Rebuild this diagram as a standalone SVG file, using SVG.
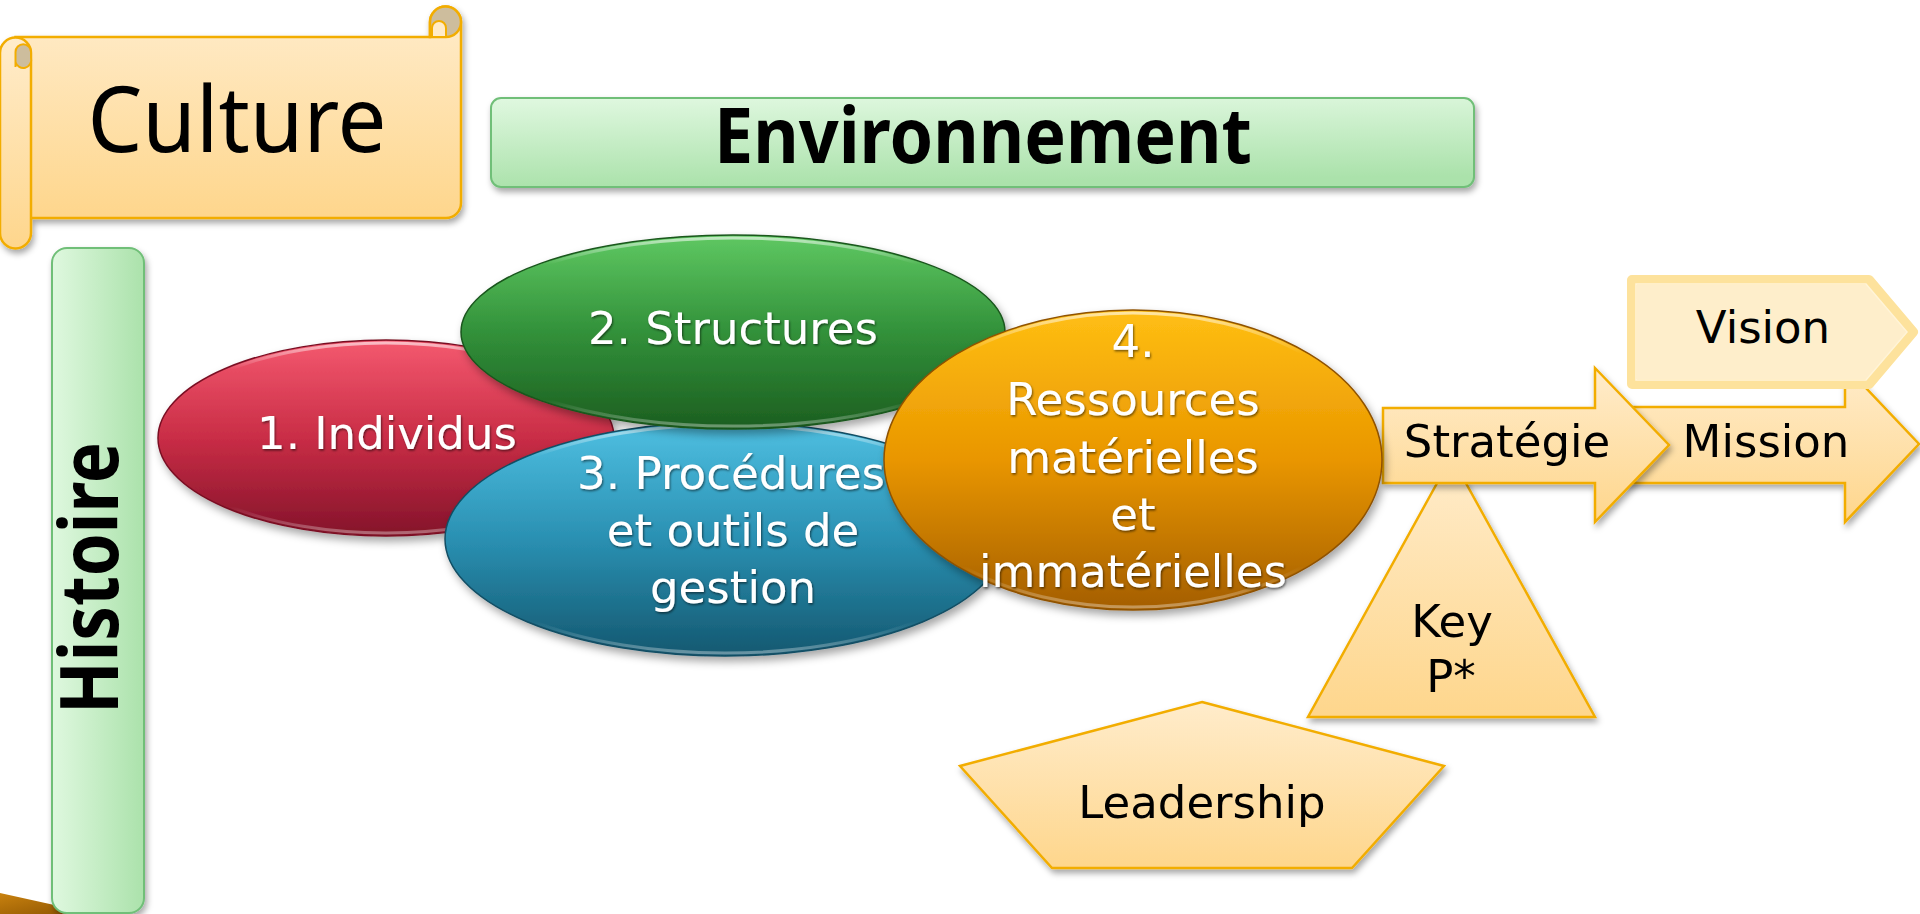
<svg xmlns="http://www.w3.org/2000/svg" width="1920" height="914" viewBox="0 0 1920 914">
<defs>
  <linearGradient id="gPeach" x1="0" y1="0" x2="0" y2="1">
    <stop offset="0" stop-color="#ffeccb"/>
    <stop offset="1" stop-color="#fed68c"/>
  </linearGradient>
  <linearGradient id="gGreenH" x1="0" y1="0" x2="1" y2="0">
    <stop offset="0" stop-color="#dff8df"/>
    <stop offset="1" stop-color="#abe2ab"/>
  </linearGradient>
  <linearGradient id="gGreenD" x1="0" y1="0" x2="0.15" y2="1">
    <stop offset="0" stop-color="#e0f8e0"/>
    <stop offset="1" stop-color="#abe2ab"/>
  </linearGradient>
  <linearGradient id="gRed" x1="0" y1="0" x2="0" y2="1">
    <stop offset="0" stop-color="#f4596f"/>
    <stop offset="0.5" stop-color="#c92d46"/>
    <stop offset="1" stop-color="#84132a"/>
  </linearGradient>
  <linearGradient id="gGreen" x1="0" y1="0" x2="0" y2="1">
    <stop offset="0" stop-color="#5fc862"/>
    <stop offset="0.5" stop-color="#32913a"/>
    <stop offset="1" stop-color="#1c5e20"/>
  </linearGradient>
  <linearGradient id="gBlue" x1="0" y1="0" x2="0" y2="1">
    <stop offset="0" stop-color="#4fc0e2"/>
    <stop offset="0.5" stop-color="#2a90b2"/>
    <stop offset="1" stop-color="#145870"/>
  </linearGradient>
  <linearGradient id="gOrange" x1="0" y1="0" x2="0" y2="1">
    <stop offset="0" stop-color="#ffbf14"/>
    <stop offset="0.5" stop-color="#e99600"/>
    <stop offset="1" stop-color="#a45e00"/>
  </linearGradient>
  <linearGradient id="gGloss" x1="0" y1="0" x2="0" y2="1">
    <stop offset="0" stop-color="#ffffff" stop-opacity="0.6"/>
    <stop offset="0.14" stop-color="#ffffff" stop-opacity="0"/>
    <stop offset="0.86" stop-color="#ffffff" stop-opacity="0"/>
    <stop offset="1" stop-color="#ffffff" stop-opacity="0.35"/>
  </linearGradient>
  <linearGradient id="gWood" x1="0" y1="0" x2="1" y2="1">
    <stop offset="0" stop-color="#c9820f"/>
    <stop offset="1" stop-color="#8a5200"/>
  </linearGradient>
  <filter id="sh" x="-10%" y="-10%" width="130%" height="140%">
    <feDropShadow dx="2" dy="4" stdDeviation="3" flood-color="#000" flood-opacity="0.35"/>
  </filter>
  <filter id="shE" x="-10%" y="-10%" width="130%" height="140%">
    <feDropShadow dx="3" dy="5" stdDeviation="4" flood-color="#000" flood-opacity="0.35"/>
  </filter>
  <filter id="tsh" x="-5%" y="-20%" width="115%" height="150%">
    <feDropShadow dx="1" dy="1.5" stdDeviation="1" flood-color="#000" flood-opacity="0.55"/>
  </filter>
  <style>
    .peach { fill: url(#gPeach); stroke: #f2ad05; stroke-width: 2.5; stroke-linejoin: miter; }
    .green { stroke: #70bf78; stroke-width: 2; }
    .lbl { font-family: "DejaVu Sans", Verdana, sans-serif; font-size: 45px; fill: #000; text-anchor: middle; }
    .wlbl { font-family: "DejaVu Sans", Verdana, sans-serif; font-size: 45px; fill: #fff; text-anchor: middle; filter: url(#tsh); }
    .title { font-family: "Noto Sans", "Open Sans", "Liberation Sans", sans-serif; fill: #000; text-anchor: middle; }
    .gloss { fill: none; stroke: url(#gGloss); stroke-width: 3; }
    .rim { stroke-width: 1.5; }
  </style>
</defs>

<!-- wood corner -->
<polygon points="0,893 95,914 0,914" fill="url(#gWood)"/>

<g id="culture" filter="url(#sh)">
  <path class="peach" d="M15.5,37 H430 V22 A15.5,15.5 0 0 1 461,22 V203 A15,15 0 0 1 446,218 H15.5 Z"/>
  <path d="M430,37 V22 A15.5,15.5 0 0 1 461,22 A15,15 0 0 1 446,37 Z" fill="#cdbd9d" stroke="#f2ad05" stroke-width="2.5"/>
  <path d="M432,37 V28 A7,7 0 0 1 446,28 V37 Z" fill="#ffebc8" stroke="#f2ad05" stroke-width="2"/>
  <path class="peach" d="M0,53 A15.5,15.5 0 0 1 31,53 V233 A15.5,15.5 0 0 1 0,233 Z"/>
  <path d="M15.5,67 V52 A7.75,7.75 0 0 1 31,52 V58 A7.75,7.75 0 0 1 15.5,62" fill="#cdbd9d" stroke="#f2ad05" stroke-width="2"/>
  <text class="title" x="237" y="152" font-size="91" textLength="299" lengthAdjust="spacingAndGlyphs">Culture</text>
</g>

<g id="environnement" filter="url(#sh)">
  <rect x="491" y="98" width="983" height="89" rx="10" fill="url(#gGreenD)" class="green"/>
  <text class="title" x="983" y="163" font-size="77" font-weight="bold" textLength="538" lengthAdjust="spacingAndGlyphs">Environnement</text>
</g>

<g id="histoire" filter="url(#sh)">
  <rect x="52" y="248" width="92" height="665" rx="15" fill="url(#gGreenH)" class="green"/>
  <text class="title" transform="translate(118,578) rotate(-90)" font-size="80" font-weight="bold" textLength="272" lengthAdjust="spacingAndGlyphs">Histoire</text>
</g>

<g id="mission" filter="url(#sh)">
  <path class="peach" d="M1600,407 H1845 V366 L1919,444 L1845,522 V483 H1600 Z"/>
  <text class="lbl" x="1766" y="457">Mission</text>
</g>

<g id="vision">
  <path d="M1632,280 H1869 L1913,332 L1869,384 H1632 Z" fill="#feeecb" stroke="#fde29c" stroke-width="10" stroke-linejoin="round"/>
  <path d="M1636,284 H1866 L1907,332 L1866,380 H1636 Z" fill="none" stroke="#fff4d8" stroke-width="1.5"/>
  <text class="lbl" x="1763" y="343">Vision</text>
</g>

<g id="keyp" filter="url(#sh)">
  <polygon class="peach" points="1451.5,457 1595,717 1308,717"/>
  <text class="lbl" x="1452" y="637">Key</text>
  <text class="lbl" x="1451" y="692">P*</text>
</g>

<g id="strategie" filter="url(#sh)">
  <path class="peach" d="M1383,408 H1595 V368 L1669,445 L1595,522 V483 H1383 Z"/>
  <text class="lbl" x="1507" y="457">Stratégie</text>
</g>

<g id="leadership" filter="url(#sh)">
  <polygon class="peach" points="1202,702 1444,766 1352,868 1052,868 960,766"/>
  <text class="lbl" x="1202" y="818">Leadership</text>
</g>

<g id="individus">
  <ellipse cx="386" cy="438" rx="228" ry="98" fill="url(#gRed)" stroke="#7a1024" class="rim" filter="url(#shE)"/>
  <ellipse class="gloss" cx="386" cy="438" rx="225" ry="95"/>
  <text class="wlbl" x="387" y="449">1. Individus</text>
</g>

<g id="procedures">
  <ellipse cx="725" cy="539" rx="280" ry="117" fill="url(#gBlue)" stroke="#124e64" class="rim" filter="url(#shE)"/>
  <ellipse class="gloss" cx="725" cy="539" rx="277" ry="114"/>
  <text class="wlbl" x="731" y="489" textLength="308" lengthAdjust="spacingAndGlyphs">3. Procédures</text>
  <text class="wlbl" x="733" y="546">et outils de</text>
  <text class="wlbl" x="733" y="603">gestion</text>
</g>

<g id="structures">
  <ellipse cx="733" cy="332" rx="272" ry="97" fill="url(#gGreen)" stroke="#1a561d" class="rim" filter="url(#shE)"/>
  <ellipse class="gloss" cx="733" cy="332" rx="269" ry="94"/>
  <text class="wlbl" x="733" y="344">2. Structures</text>
</g>

<g id="ressources">
  <ellipse cx="1133" cy="460" rx="249" ry="150" fill="url(#gOrange)" stroke="#8f5200" class="rim" filter="url(#shE)"/>
  <ellipse class="gloss" cx="1133" cy="460" rx="246" ry="147"/>
  <text class="wlbl" x="1133" y="357">4.</text>
  <text class="wlbl" x="1133" y="415">Ressources</text>
  <text class="wlbl" x="1133" y="473">matérielles</text>
  <text class="wlbl" x="1133" y="530">et</text>
  <text class="wlbl" x="1133" y="587">immatérielles</text>
</g>

<g id="connectors"></g>
</svg>
